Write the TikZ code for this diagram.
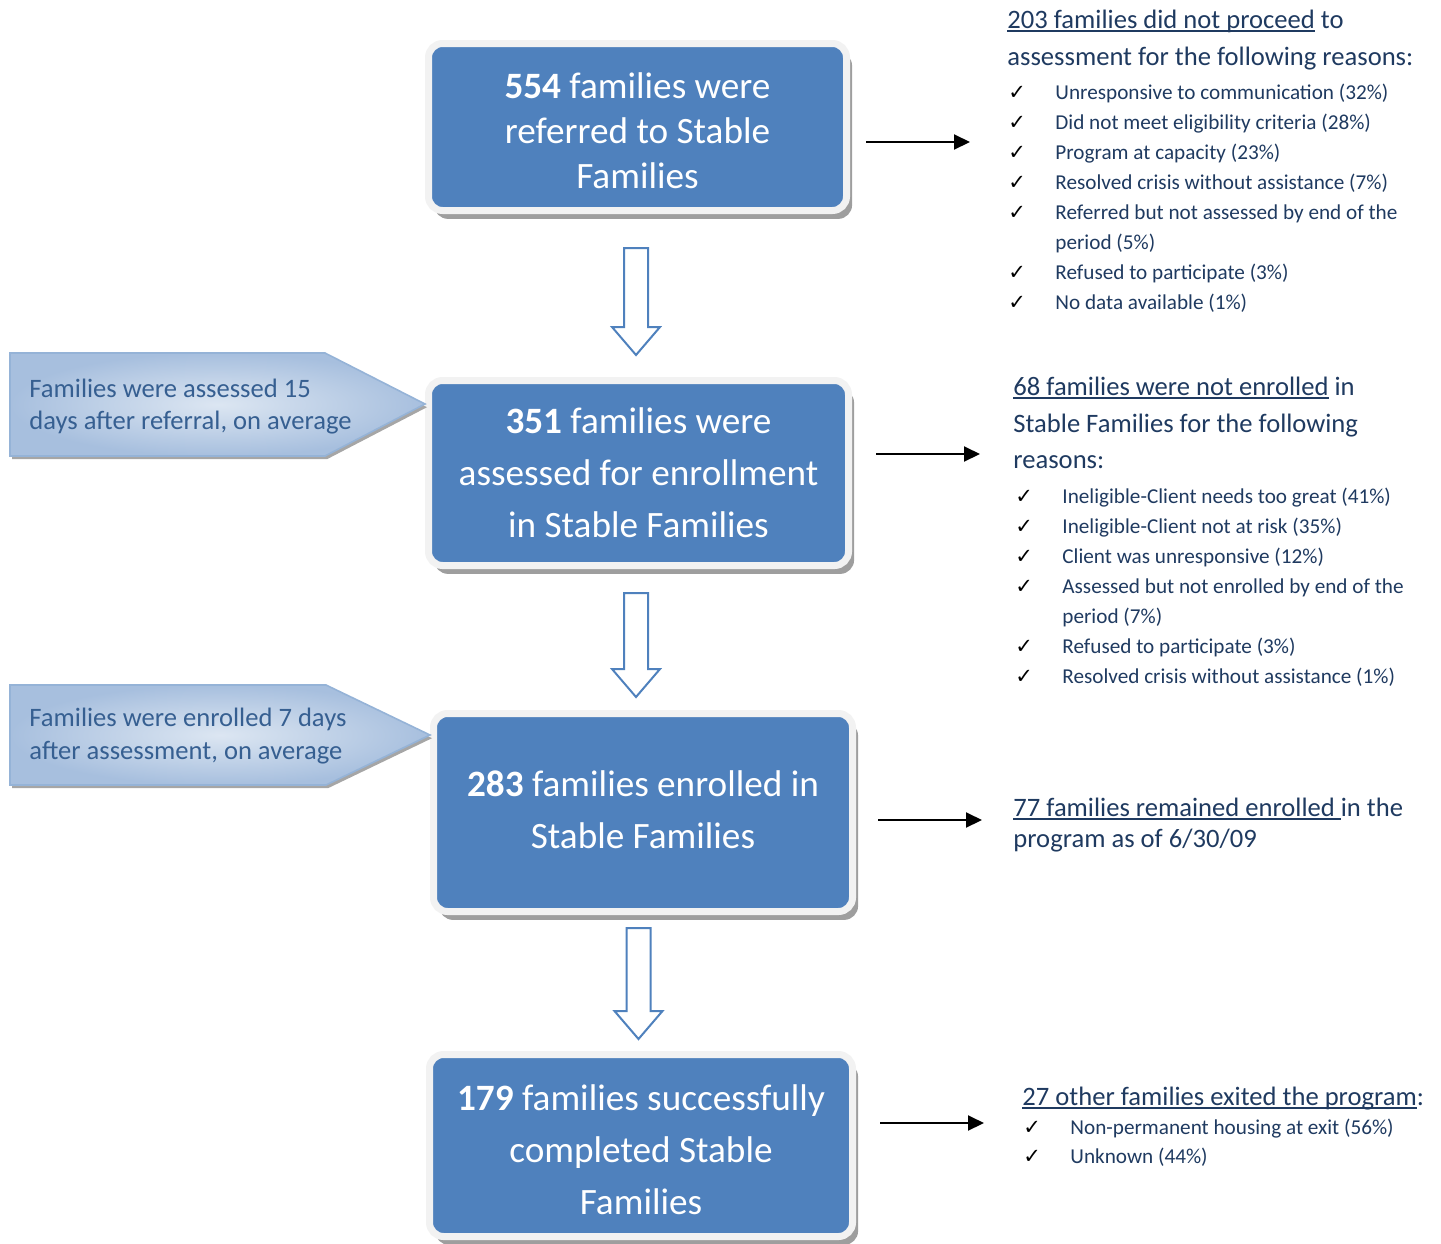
\documentclass[tikz,border=0pt]{standalone}
\usepackage{fontspec}
\setmainfont{Carlito}
\newfontfamily\chkfont{DejaVu Sans}
\usetikzlibrary{shadows,calc,arrows.meta}
\definecolor{boxblue}{HTML}{4F81BD}
\definecolor{boxframe}{HTML}{F2F2F2}
\definecolor{navy}{HTML}{1F3A60}
\definecolor{callblue}{HTML}{365F91}
\definecolor{callin}{HTML}{DCE6F2}
\definecolor{callout}{HTML}{A7BFDE}
\definecolor{callborder}{HTML}{95B3D7}
\newcommand\ulx[1]{\setbox0\hbox{#1}\rlap{\color{navy}\rule[-2pt]{\wd0}{1pt}}\box0\relax}
\tikzset{
 flowbox/.style={draw=boxframe, line width=3.5pt, fill=boxblue, rounded corners=7pt, inner sep=0pt, align=center, text=white,
   font=\fontsize{18.6pt}{26pt}\selectfont,
   drop shadow={shadow xshift=2.8pt, shadow yshift=-4.2pt, fill=black!38, opacity=1}},
 hollow/.style={draw=boxblue, line width=1pt, fill=white, line join=miter},
 sidearrow/.style={line width=1pt, -{Triangle[length=8pt,width=7.5pt]}},
 callshape/.style={draw=callborder, line width=0.8pt, inner color=callin, outer color=callout,
   drop shadow={shadow xshift=1pt, shadow yshift=-1.6pt, fill=black!35, opacity=1}},
 calltext/.style={anchor=base west, inner sep=0pt, text=callblue, font=\fontsize{13.3pt}{16pt}\selectfont},
 headtext/.style={anchor=base west, inner sep=0pt, text=navy, font=\fontsize{13.3pt}{16pt}\selectfont},
 itm/.style={anchor=base west, inner sep=0pt, text=navy, font=\fontsize{10.6pt}{13pt}\selectfont},
 chk/.style={anchor=base west, inner sep=0pt, font=\chkfont\fontsize{10.5pt}{12pt}\selectfont},
}
\newcommand\chkitem[5]{\node[chk] (#1c) at (#2,#4) {✓};\node[itm] (#1) at (#3,#4) {#5};}
\newcommand\hollowarrow[2]{\draw[hollow] ($(#1)+(-12,0)$) -- ($(#2)+(-12,-28)$) -- ($(#2)+(-24,-28)$) -- (#2) -- ($(#2)+(24,-28)$) -- ($(#2)+(12,-28)$) -- ($(#1)+(12,0)$) -- cycle;}
\begin{document}
\begin{tikzpicture}[x=0.5pt,y=-0.5pt]
\useasboundingbox (0,0) rectangle (1441,1243);
% main boxes
\node[flowbox, minimum width=209pt, minimum height=83.5pt, font=\fontsize{18.6pt}{22.5pt}\selectfont] (b1) at (637.5,127) {\rule{0pt}{17pt}\textbf{554} families were\\referred to Stable\\Families};
\node[flowbox, minimum width=210pt, minimum height=92.5pt] (b2) at (638.5,473) {\textbf{351} families were\\assessed for enrollment\\in Stable Families};
\node[flowbox, minimum width=209.5pt, minimum height=99pt] (b3) at (643,812.5) {\textbf{283} families enrolled in\\Stable Families\rule[-3pt]{0pt}{3pt}};
\node[flowbox, minimum width=211.5pt, minimum height=91pt] (b4) at (641,1145.5) {\rule{0pt}{17pt}\textbf{179} families successfully\\completed Stable\\Families};
% hollow arrows
\coordinate (a1s) at ($(b1.south)+(-1.5,34)$);
\coordinate (a1t) at ($(a1s |- b2.north)+(0,-22)$);
\hollowarrow{a1s}{a1t}
\coordinate (a2s) at ($(b2.south)+(-2.5,24)$);
\coordinate (a2t) at ($(a2s |- b3.north)+(0,-13)$);
\hollowarrow{a2s}{a2t}
\coordinate (a3s) at ($(b3.south)+(-4.5,13)$);
\coordinate (a3t) at ($(a3s |- b4.north)+(0,-12)$);
\hollowarrow{a3s}{a3t}
% callouts
\path[callshape] (10,353) -- (325,353) -- (425,404) -- (325,456) -- (10,456) -- cycle;
\node[calltext] (c1a) at (29,397) {Families were assessed 15};
\node[calltext] (c1b) at (29,429) {days after referral, on average};
\path[callshape] (10,685) -- (326,685) -- (430,735) -- (326,785) -- (10,785) -- cycle;
\node[calltext] (c2a) at (29,726) {Families were enrolled 7 days};
\node[calltext] (c2b) at (29,759) {after assessment, on average};
% side arrows
\coordinate (h1s) at (866,142); \coordinate (h1e) at (970,142);
\draw[sidearrow] (h1s) -- (h1e);
\coordinate (h2s) at (876,454); \coordinate (h2e) at (980,454);
\draw[sidearrow] (h2s) -- (h2e);
\coordinate (h3s) at (878,820); \coordinate (h3e) at (982,820);
\draw[sidearrow] (h3s) -- (h3e);
\coordinate (h4s) at (880,1123); \coordinate (h4e) at (984,1123);
\draw[sidearrow] (h4s) -- (h4e);
% block 1
\node[headtext] (r1a) at (1007,28) {\ulx{203 families did not proceed} to};
\node[headtext] (r1b) at (1007,65) {assessment for the following reasons:};
\chkitem{r1i1}{1008}{1055}{99}{Unresponsive to communication (32\%)}
\chkitem{r1i2}{1008}{1055}{129}{Did not meet eligibility criteria (28\%)}
\chkitem{r1i3}{1008}{1055}{159}{Program at capacity (23\%)}
\chkitem{r1i4}{1008}{1055}{189}{Resolved crisis without assistance (7\%)}
\chkitem{r1i5}{1008}{1055}{219}{Referred but not assessed by end of the}
\node[itm] (r1i5b) at (1055,249) {period (5\%)};
\chkitem{r1i6}{1008}{1055}{279}{Refused to participate (3\%)}
\chkitem{r1i7}{1008}{1055}{309}{No data available (1\%)}
% block 2
\node[headtext] (r2a) at (1013,395) {\ulx{68 families were not enrolled} in};
\node[headtext] (r2b) at (1013,432) {Stable Families for the following};
\node[headtext] (r2c) at (1013,468) {reasons:};
\chkitem{r2i1}{1015}{1062}{503}{Ineligible-Client needs too great (41\%)}
\chkitem{r2i2}{1015}{1062}{533}{Ineligible-Client not at risk (35\%)}
\chkitem{r2i3}{1015}{1062}{563}{Client was unresponsive (12\%)}
\chkitem{r2i4}{1015}{1062}{593}{Assessed but not enrolled by end of the}
\node[itm] (r2i4b) at (1062,623) {period (7\%)};
\chkitem{r2i5}{1015}{1062}{653}{Refused to participate (3\%)}
\chkitem{r2i6}{1015}{1062}{683}{Resolved crisis without assistance (1\%)}
% block 3
\node[headtext] (r3a) at (1013,816) {\ulx{77 families remained enrolled }in the};
\node[headtext] (r3b) at (1013,847) {program as of 6/30/09};
% block 4
\node[headtext] (r4a) at (1022,1105) {\ulx{27 other families exited the program}:};
\chkitem{r4i1}{1023}{1070}{1134}{Non-permanent housing at exit (56\%)}
\chkitem{r4i2}{1023}{1070}{1163}{Unknown (44\%)}
\end{tikzpicture}
\end{document}
